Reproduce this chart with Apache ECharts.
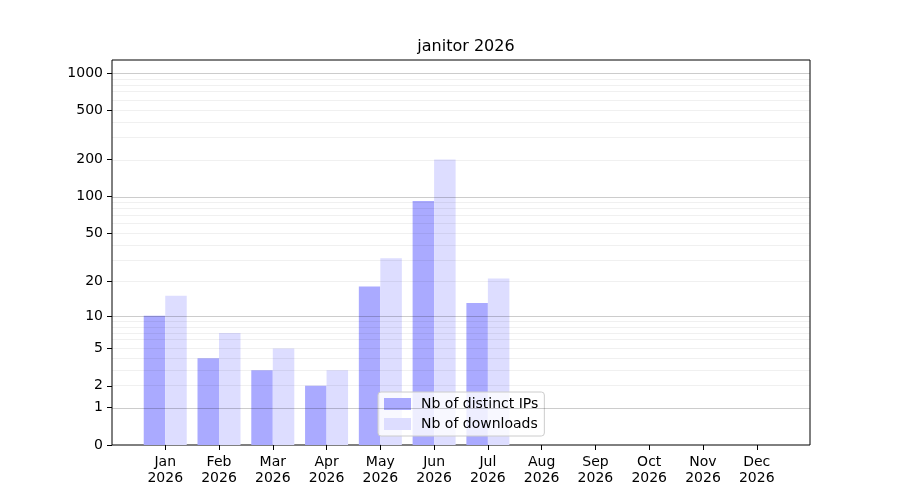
<!DOCTYPE html>
<html>
<head>
<meta charset="utf-8">
<script src="https://cdn.jsdelivr.net/npm/echarts@6/dist/echarts.min.js"></script>
<style>
  html, body { margin: 0; padding: 0; background: #fff; }
  #main { width: 900px; height: 500px; }
</style>
</head>
<body>
<div id="main"></div>
<script>
// data
const months = ['Jan', 'Feb', 'Mar', 'Apr', 'May', 'Jun', 'Jul', 'Aug', 'Sep', 'Oct', 'Nov', 'Dec'];
const year = '2026';
const distinctIPs = [10, 4, 3, 2, 18, 92, 13];
const downloads = [15, 7, 5, 3, 31, 200, 21];
const yTicks = [0, 1, 2, 5, 10, 20, 50, 100, 200, 500, 1000];
const majorGrid = [1, 10, 100, 1000];
const minorGrid = [2, 3, 4, 5, 6, 7, 8, 9, 20, 30, 40, 50, 60, 70, 80, 90, 200, 300, 400, 500, 600, 700, 800, 900];

// y scale is log10(1 + v)
const tf = v => Math.log10(1 + v);
const font = 'DejaVu Sans';

let myChart = echarts.init(document.getElementById('main'));
myChart.setOption({
  animation: false,
  textStyle: { fontFamily: font },
  title: {
    text: 'janitor ' + year,
    left: 461, top: 34, textAlign: 'center',
    textStyle: { fontFamily: font, fontSize: 16, fontWeight: 'normal', color: '#000' }
  },
  grid: {
    left: 112, right: 90, top: 60, bottom: 55,
    show: true, borderColor: '#000', borderWidth: 1, backgroundColor: 'transparent'
  },
  legend: {
    orient: 'vertical',
    left: 378, top: 392,
    padding: [5, 6, 5, 6],
    itemWidth: 27, itemHeight: 12, itemGap: 6,
    icon: 'rect',
    backgroundColor: 'rgba(255,255,255,0.8)',
    borderColor: '#cccccc', borderWidth: 1, borderRadius: 3,
    textStyle: { fontFamily: font, fontSize: 14, color: '#000', padding: [0, 0, 0, 5] },
    data: ['Nb of distinct IPs', 'Nb of downloads']
  },
  xAxis: {
    type: 'value',
    min: -0.99, max: 11.99,
    axisLine: { show: false, onZero: false },
    splitLine: { show: false },
    axisTick: {
      show: true, inside: false, length: 5,
      customValues: months.map((m, i) => i),
      lineStyle: { color: '#000' }
    },
    axisLabel: {
      customValues: months.map((m, i) => i),
      formatter: v => months[Math.round(v)] + '\n' + year,
      fontFamily: font, fontSize: 14, color: '#000', lineHeight: 16, margin: 9
    }
  },
  yAxis: {
    type: 'value',
    min: 0, max: tf(1272),
    axisLine: { show: false, onZero: false },
    splitLine: { show: false },
    axisTick: {
      show: true, length: 5,
      customValues: yTicks.map(tf),
      lineStyle: { color: '#000' }
    },
    axisLabel: {
      customValues: yTicks.map(tf),
      formatter: v => String(Math.round(Math.pow(10, v) - 1)),
      fontFamily: font, fontSize: 14, color: '#000', margin: 9
    }
  },
  series: [
    {
      name: 'Nb of distinct IPs',
      type: 'bar',
      barWidth: 21.5,
      barGap: '0%',
      itemStyle: { color: '#aaaaff' },
      data: distinctIPs.map((v, i) => [i, tf(v)])
    },
    {
      name: 'Nb of downloads',
      type: 'bar',
      barWidth: 21.5,
      barGap: '0%',
      itemStyle: { color: '#ddddff' },
      data: downloads.map((v, i) => [i, tf(v)])
    },
    {
      // grid lines drawn over the bars, like the original
      type: 'line',
      z: 5,
      silent: true,
      data: [],
      markLine: {
        silent: true,
        symbol: 'none',
        label: { show: false },
        animation: false,
        data: majorGrid.map(t => ({ yAxis: tf(t), lineStyle: { color: 'rgba(0,0,0,0.2)', type: 'solid', width: 1 } }))
          .concat(minorGrid.map(t => ({ yAxis: tf(t), lineStyle: { color: 'rgba(0,0,0,0.06)', type: 'solid', width: 1 } })))
      }
    }
  ]
});
</script>
</body>
</html>
